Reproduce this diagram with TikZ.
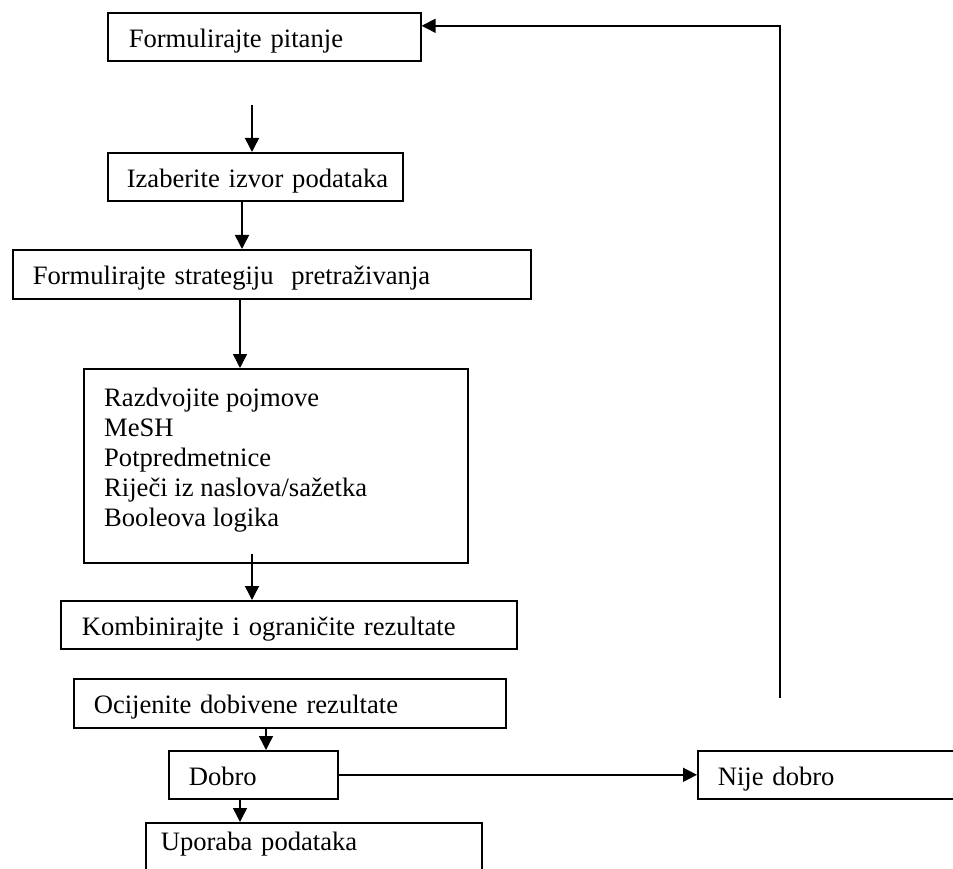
\documentclass[tikz,border=0pt]{standalone}
\usepackage{fontspec}
\setmainfont{Liberation Serif}
\usetikzlibrary{arrows.meta}
\begin{document}
\begin{tikzpicture}[x=1pt,y=-1pt,
  box/.style={draw, line width=1.6pt, anchor=north west, inner ysep=0pt,
    text height=21pt, text depth=0pt, align=left,
    font=\fontsize{26.6pt}{30pt}\selectfont},
  plain/.style={anchor=base west, inner sep=0pt, align=left,
    font=\fontsize{26.6pt}{30pt}\selectfont},
  arr/.style={line width=1.5pt, -{Triangle[length=14pt,width=14pt]}},
  link/.style={line width=1.5pt}]
\useasboundingbox (0,0) rectangle (953,869);
\clip (0,0) rectangle (953,869);

\node[box, minimum width=313pt, minimum height=48pt, inner xsep=21pt, text width=271pt] (b1) at (107,12) {\mbox{Formulirajte pitanje}};
\node[box, minimum width=295pt, minimum height=48pt, inner xsep=19pt, text width=257pt] (b2) at (107,152) {\mbox{Izaberite izvor podataka}};
\node[box, minimum width=518pt, minimum height=49pt, inner xsep=20pt, text width=478pt] (b3) at (12,249) {\mbox{Formulirajte strategiju\ \ pretraživanja}};
\node[draw, line width=1.6pt, anchor=north west, minimum width=384pt, minimum height=194pt, inner sep=0pt] (b4) at (83,368) {};
\node[plain] (b4t) at (104,526) {Razdvojite pojmove\\MeSH\\Potpredmetnice\\Riječi iz naslova/sažetka\\Booleova logika};
\node[box, minimum width=456pt, minimum height=48pt, inner xsep=21pt, text width=414pt] (b5) at (60,600) {\mbox{Kombinirajte i ograničite rezultate}};
\node[box, minimum width=432pt, minimum height=49pt, inner xsep=20pt, text width=392pt] (b6) at (73,678) {\mbox{Ocijenite dobivene rezultate}};
\node[box, minimum width=169pt, minimum height=48pt, inner xsep=20pt, text width=129pt] (b7) at (168,750) {\mbox{Dobro}};
\node[box, minimum width=303pt, minimum height=48pt, inner xsep=20pt, text width=263pt] (b8) at (697,750) {\mbox{Nije dobro}};
\node[box, minimum width=336pt, minimum height=60pt, inner xsep=15pt, text width=306pt, text depth=25pt] (b9) at (145,822) {\mbox{Uporaba podataka}};

\coordinate (c0) at (252,105);
\draw[arr] (c0) -- (c0 |- b2.north);
\coordinate (s2) at ([xshift=135pt]b2.south west);
\draw[arr] (s2) -- (s2 |- b3.north);
\coordinate (s3) at ([xshift=228pt]b3.south west);
\draw[arr] (s3) -- (s3 |- b4.north);
\coordinate (s4) at ([xshift=169pt,yshift=10pt]b4.south west);
\draw[arr] (s4) -- (s4 |- b5.north);
\coordinate (s6) at ([xshift=193pt]b6.south west);
\draw[arr] (s6) -- (s6 |- b7.north);
\coordinate (s7) at ([xshift=72pt]b7.south west);
\draw[arr] (s7) -- (s7 |- b9.north);
\draw[arr] (b7.east) -- (b8.west);
\coordinate (r0) at (780,698);
\draw[arr] (r0) |- ([yshift=11pt]b1.east);
\end{tikzpicture}
\end{document}
